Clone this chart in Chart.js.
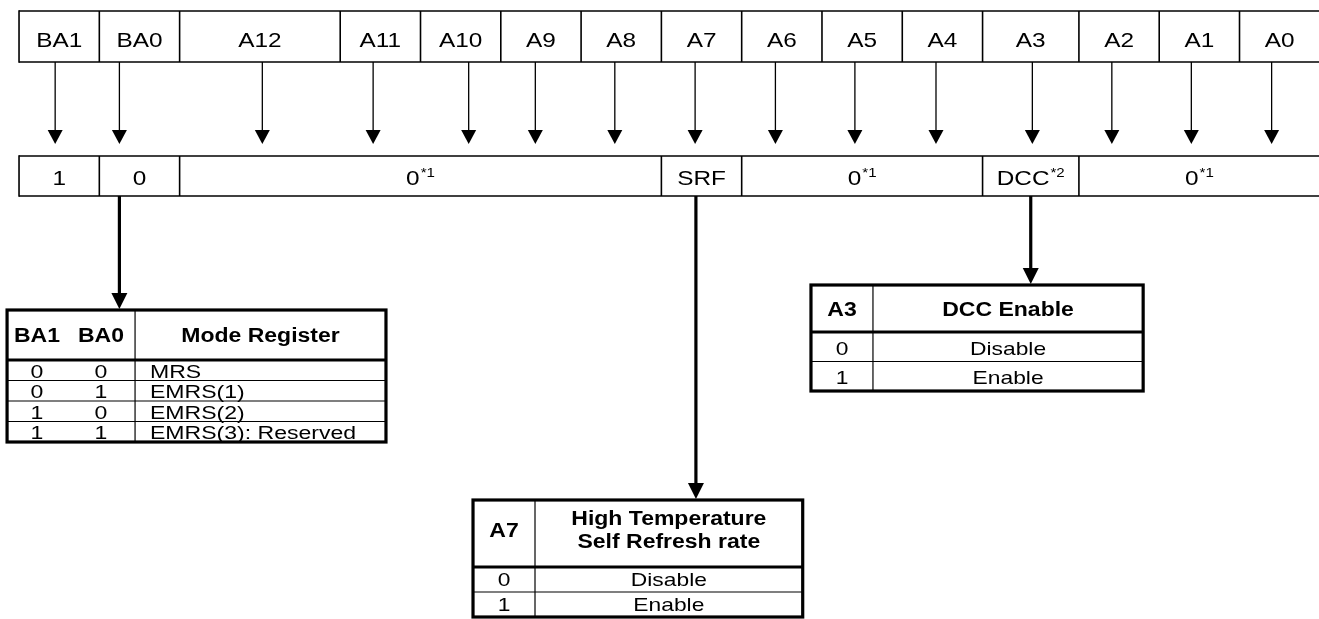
<!DOCTYPE html>
<html><head><meta charset="utf-8">
<script src="https://cdn.jsdelivr.net/npm/chart.js@4.4.1/dist/chart.umd.min.js"></script>
<style>html,body{margin:0;padding:0;background:#fff}#wrap{width:1319px;height:619px;position:relative}</style>
</head><body><div id="wrap"><canvas id="c"></canvas></div>
<script>
// ---- data ----
const topLabels = ['BA1','BA0','A12','A11','A10','A9','A8','A7','A6','A5','A4','A3','A2','A1','A0'];
const topWidths = [1,1,2,1,1,1,1,1,1,1,1,1.2,1,1,1];
const arrowPositions = [0.45,1.25,3.03,4.41,5.6,6.43,7.42,8.42,9.42,10.41,11.42,12.62,13.61,14.6,15.6];
const fieldLabels = ['1','0','0','SRF','0','DCC','0'];
const fieldNotes  = ['','','*1','','*1','*2','*1'];
const fieldWidths = [1,1,6,1,3,1.2,3];
const connectorPositions = [1.25, 8.43, 12.6];
const modeHeader = ['BA1','BA0','Mode Register'];
const modeRows = [['0','0','MRS'],['0','1','EMRS(1)'],['1','0','EMRS(2)'],['1','1','EMRS(3): Reserved']];
const srfHeader = ['A7',['High Temperature','Self Refresh rate']];
const srfRows = [['0','Disable'],['1','Enable']];
const dccHeader = ['A3',['DCC Enable']];
const dccRows = [['0','Disable'],['1','Enable']];

// ---- layout ----
const X_MIN = -0.237, X_MAX = 16.19;
const Y_MAX = 619;
const TOP_Y = [11, 62], ARROW_TIP = 144, FIELD_Y = [156, 196];
const FONT = "'Liberation Sans', Arial, sans-serif";
const modeT = {x:[-0.149, 4.57], div:1.445, c1:[0.224,1.021], c2:1.631, y:[310,360], rowH:20.5, dy:1, fn:18, sn:1.28};
const srfT  = {x:[5.654, 9.76], div:6.426, c1:6.04, y:[500,567], rowH:25, hl:[518,541], dy:0, fn:19, sn:1.2};
const dccT  = {x:[9.863, 14.0], div:10.635, c1:10.249, y:[285,332], rowH:29.5, hl:[309], dy:1, fn:19, sn:1.2};
const targets = [modeT, srfT, dccT];

const diagramPlugin = {
  id:'diagram',
  afterDraw(chart){
    const ctx = chart.ctx, sx = chart.scales.x, sy = chart.scales.y;
    const X = v => sx.getPixelForValue(v), Y = v => sy.getPixelForValue(v);
    ctx.save();
    ctx.strokeStyle = '#000'; ctx.fillStyle = '#000';
    ctx.textBaseline = 'alphabetic';
    const line = (x1,y1,x2,y2,w) => {ctx.lineWidth=w;ctx.beginPath();ctx.moveTo(x1,y1);ctx.lineTo(x2,y2);ctx.stroke();};
    const head = (x,tip,w,h) => {ctx.beginPath();ctx.moveTo(x,tip);ctx.lineTo(x-w/2,tip-h);ctx.lineTo(x+w/2,tip-h);ctx.closePath();ctx.fill();};
    const fnt = (size,bold) => (bold?'bold ':'')+size+'px '+FONT;
    const meas = (str,size,bold,s) => {ctx.font=fnt(size,bold); return ctx.measureText(str).width*s;};
    const txt = (str,x,cy,size,bold,align,s) => {
      ctx.save(); ctx.font=fnt(size,bold); ctx.textAlign=align;
      ctx.translate(x, cy+size*0.358); ctx.scale(s,1); ctx.fillText(str,0,0); ctx.restore();
    };
    const txtSup = (str,sup,cx,cy,size,s) => {
      const w = meas(str,size,false,s);
      const ss = 13;
      const ws = sup ? meas(sup,ss,false,s)+1 : 0;
      const x0 = cx-(w+ws)/2;
      txt(str,x0,cy,size,false,'left',s);
      if (sup) txt(sup,x0+w+1,cy-size*0.36+ss*0.2,ss,false,'left',s);
    };
    const S_ROW = 1.16, F_ROW = 21;
    // top row
    let acc = 0;
    const tY0 = Y(TOP_Y[0]), tY1 = Y(TOP_Y[1]);
    line(X(0),tY0,X(X_MAX+1),tY0,1.6); line(X(0),tY1,X(X_MAX+1),tY1,1.6);
    line(X(0),tY0-0.8,X(0),tY1+0.8,1.6);
    topLabels.forEach((lab,i)=>{
      const a = acc, b = acc + topWidths[i]; acc = b;
      line(X(b),tY0,X(b),tY1,1.6);
      txt(lab,(X(a)+X(b))/2,(tY0+tY1)/2+2.5,F_ROW,false,'center',S_ROW);
    });
    // arrows
    arrowPositions.forEach(p=>{
      const x = X(p);
      line(x,tY1,x,Y(ARROW_TIP)-12,1.3);
      head(x,Y(ARROW_TIP),15,14);
    });
    // field row
    acc = 0;
    const fY0 = Y(FIELD_Y[0]), fY1 = Y(FIELD_Y[1]);
    line(X(0),fY0,X(X_MAX+1),fY0,1.6); line(X(0),fY1,X(X_MAX+1),fY1,1.6);
    line(X(0),fY0-0.8,X(0),fY1+0.8,1.6);
    fieldLabels.forEach((lab,i)=>{
      const a = acc, b = acc + fieldWidths[i]; acc = b;
      line(X(b),fY0,X(b),fY1,1.6);
      txtSup(lab, fieldNotes[i], (X(a)+X(b))/2, (fY0+fY1)/2+1.5, F_ROW, S_ROW);
    });
    // connectors
    connectorPositions.forEach((p,i)=>{
      const x = X(p), tip = Y(targets[i].y[0])-1;
      line(x,fY1,x,tip-14,3.2);
      head(x,tip,16,16);
    });
    // tables
    const FB = 20, SB = 1.15;
    const drawTable = (t, header, rows, three) => {
      const xl = X(t.x[0]), xr = X(t.x[1]), xd = X(t.div), yt = Y(t.y[0]), yh = Y(t.y[1]);
      const yb = Y(t.y[1] + t.rowH*rows.length);
      for (let r=1;r<rows.length;r++){ const yy = Y(t.y[1]+t.rowH*r); line(xl,yy,xr,yy,1.2); }
      line(xd,yt,xd,yb,1.2);
      line(xl,yh,xr,yh,3.2);
      ctx.lineWidth = 3.2; ctx.strokeRect(xl,yt,xr-xl,yb-yt);
      const c2c = (xd+xr)/2;
      if (three){
        const hc = (yt+yh)/2;
        txt(header[0], X(t.c1[0]), hc, FB, true, 'center', SB);
        txt(header[1], X(t.c1[1]), hc, FB, true, 'center', SB);
        txt(header[2], c2c, hc, FB, true, 'center', SB);
      } else {
        const hc = (t.hl.reduce((a,b)=>a+b,0))/t.hl.length;
        txt(header[0], X(t.c1), Y(hc), FB, true, 'center', SB);
        header[1].forEach((s,k)=>txt(s, c2c, Y(t.hl[k]), FB, true, 'center', SB));
      }
      rows.forEach((row,r)=>{
        const cy = Y(t.y[1]+t.rowH*(r+0.5)+t.dy);
        if (three){
          txt(row[0], X(t.c1[0]), cy, t.fn, false, 'center', t.sn);
          txt(row[1], X(t.c1[1]), cy, t.fn, false, 'center', t.sn);
          txt(row[2], X(t.c2), cy, t.fn, false, 'left', t.sn);
        } else {
          txt(row[0], X(t.c1), cy, t.fn, false, 'center', t.sn);
          txt(row[1], c2c, cy, t.fn, false, 'center', t.sn);
        }
      });
    };
    drawTable(modeT, modeHeader, modeRows, true);
    drawTable(srfT, srfHeader, srfRows, false);
    drawTable(dccT, dccHeader, dccRows, false);
    ctx.restore();
  }
};

new Chart(document.getElementById('c'), {
  type:'scatter',
  data:{datasets:[{data:[], showLine:false}]},
  options:{
    responsive:true, maintainAspectRatio:false, animation:false,
    layout:{padding:0},
    plugins:{legend:{display:false}, tooltip:{enabled:false}},
    scales:{
      x:{type:'linear', min:X_MIN, max:X_MAX, display:false},
      y:{type:'linear', min:0, max:Y_MAX, reverse:true, display:false}
    }
  },
  plugins:[diagramPlugin]
});
</script></body></html>
